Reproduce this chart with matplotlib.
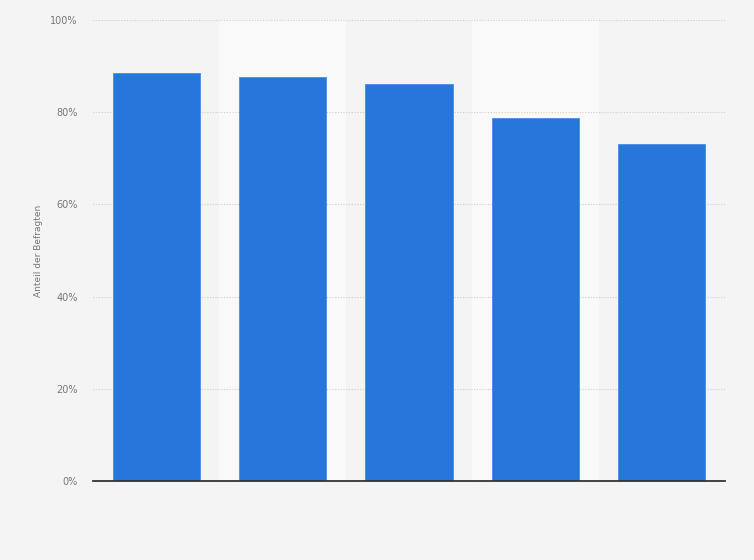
import matplotlib.pyplot as plt
from matplotlib.ticker import FuncFormatter

categories = ["A", "B", "C", "D", "E"]
shares = [88.5, 87.6, 86.1, 78.7, 73.1]
y_ticks = [0, 20, 40, 60, 80, 100]

fig = plt.figure(figsize=(7.54, 5.6), dpi=100)
fig.patch.set_facecolor("#f4f4f4")
ax = fig.add_axes([0.1233, 0.1411, 0.8382, 0.8232])
ax.set_facecolor("#f4f4f4")

x = list(range(len(categories)))

# lighter bands behind every second column
for i in x:
    if i % 2 == 1:
        ax.axvspan(i - 0.5, i + 0.5, color="#f9f9f9", zorder=0, lw=0)

ax.bar(x, shares, width=0.69, color="#2776dc", edgecolor="#4a8be3",
       linewidth=0.6, zorder=3)

ax.set_xlim(-0.5, len(categories) - 0.5)
ax.set_ylim(0, 100)
ax.set_yticks(y_ticks)
ax.yaxis.set_major_formatter(FuncFormatter(lambda v, p: f"{v:.0f}%"))
ax.set_xticks([])

ax.grid(axis="y", color="#cfcfcf", linestyle=(0, (1, 1.5)), linewidth=0.8, zorder=1)
for s in ["top", "right", "left"]:
    ax.spines[s].set_visible(False)
ax.spines["bottom"].set_color("#333333")
ax.spines["bottom"].set_linewidth(1.3)
ax.spines["bottom"].set_zorder(4)

ax.tick_params(axis="y", length=0, pad=11, labelsize=7, labelcolor="#777777")
ax.set_ylabel("Anteil der Befragten", fontsize=6.5, color="#777777", labelpad=5)

fig.savefig("out.png", dpi=100, facecolor=fig.get_facecolor())
